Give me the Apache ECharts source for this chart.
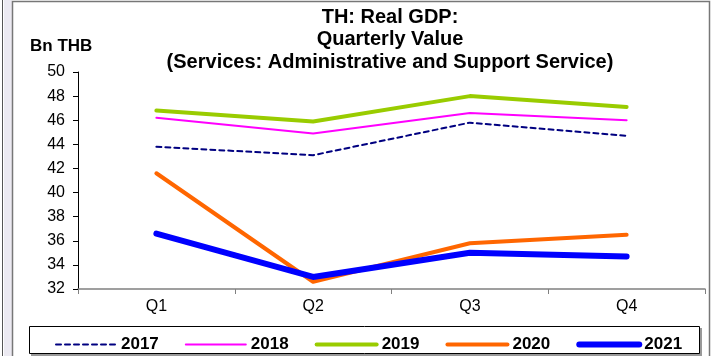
<!DOCTYPE html>
<html>
<head>
<meta charset="utf-8">
<script src="https://cdn.jsdelivr.net/npm/echarts@6/dist/echarts.min.js"></script>
<style>html,body{margin:0;padding:0;background:#fff}#c{width:712px;height:356px}</style>
</head>
<body>
<div id="c"></div>
<script>
const categories = ['Q1', 'Q2', 'Q3', 'Q4'];
const yTicks = [32, 34, 36, 38, 40, 42, 44, 46, 48, 50];
const s2017 = [43.8, 43.1, 45.8, 44.7];
const s2018 = [46.2, 44.9, 46.6, 46.0];
const s2019 = [46.8, 45.9, 48.0, 47.1];
const s2020 = [41.6, 32.6, 35.8, 36.5];
const s2021 = [36.6, 33.0, 35.0, 34.7];
const seriesNames = ['2017', '2018', '2019', '2020', '2021'];

const font = 'Liberation Sans, Arial, sans-serif';
const chart = echarts.init(document.getElementById('c'), null, {renderer: 'canvas'});
const styles = {
  '2017': {color: '#000080', width: 2, type: [5, 4]},
  '2018': {color: '#ff00ff', width: 2, type: 'solid'},
  '2019': {color: '#99cc00', width: 4, type: 'solid'},
  '2020': {color: '#ff6600', width: 4, type: 'solid'},
  '2021': {color: '#0000ff', width: 6, type: 'solid'}
};
const dataByName = {'2017': s2017, '2018': s2018, '2019': s2019, '2020': s2020, '2021': s2021};
function mk(name) {
  const s = styles[name];
  return {
    name: name, type: 'line', data: dataByName[name], symbol: 'none', silent: true,
    lineStyle: {color: s.color, width: s.width, type: s.type, cap: 'round', join: 'round'},
    itemStyle: {color: s.color},
    emphasis: {disabled: true}
  };
}
chart.setOption({
  animation: false,
  backgroundColor: '#fff',
  graphic: [
    {type: 'rect', shape: {x: 4, y: 0, width: 8, height: 356}, style: {fill: '#eceaf2'}, z: -10},
    {type: 'line', shape: {x1: 2.5, y1: 0, x2: 2.5, y2: 356}, style: {stroke: '#555', lineWidth: 1}},
    {type: 'polyline', shape: {points: [[12.5, 356], [12.5, 1.5], [709.5, 1.5], [709.5, 356]]}, style: {stroke: '#777', lineWidth: 1.5, fill: null}},
    {type: 'rect', shape: {x: 31, y: 328, width: 671, height: 28}, style: {fill: '#999'}, z: 1},
    {type: 'rect', shape: {x: 29.5, y: 326.5, width: 670, height: 27}, style: {fill: '#fff', stroke: '#000', lineWidth: 1}, z: 2},
    {type: 'text', left: 30, top: 38, style: {text: 'Bn THB', font: 'bold 17px ' + font, fill: '#000'}}
  ],
  title: {
    text: 'TH: Real GDP:\nQuarterly Value\n(Services: Administrative and Support Service)',
    left: 385, top: 1, textAlign: 'center',
    textStyle: {fontFamily: font, fontWeight: 'bold', fontSize: 20, lineHeight: 22.5, color: '#000'}
  },
  legend: {
    data: seriesNames.map(n => ({
      name: n,
      lineStyle: {width: styles[n].width, type: styles[n].type, color: styles[n].color, cap: 'round'},
      itemStyle: {opacity: 0}
    })),
    left: 50, top: 331, z: 5,
    itemWidth: 60, itemHeight: 16, itemGap: 26,
    textStyle: {fontFamily: font, fontWeight: 'bold', fontSize: 17, color: '#000'},
    selectedMode: false
  },
  grid: {left: 78, right: 7, top: 72, bottom: 67, containLabel: false},
  xAxis: {
    type: 'category', data: categories, boundaryGap: true,
    axisLine: {lineStyle: {color: '#808080', width: 1.5}},
    axisTick: {show: true, length: 5, inside: false, lineStyle: {color: '#808080'}},
    axisLabel: {fontFamily: font, fontSize: 16, color: '#000', margin: 10},
    splitLine: {show: false}
  },
  yAxis: {
    type: 'value', min: 32, max: 50, interval: 2,
    axisLine: {show: true, lineStyle: {color: '#000', width: 1}},
    axisTick: {show: true, length: 5, lineStyle: {color: '#000'}},
    axisLabel: {fontFamily: font, fontSize: 16, color: '#000', margin: 13,
      formatter: v => yTicks.indexOf(v) >= 0 ? String(v) : ''},
    splitLine: {show: false}
  },
  series: seriesNames.map(mk)
});
</script>
</body>
</html>
